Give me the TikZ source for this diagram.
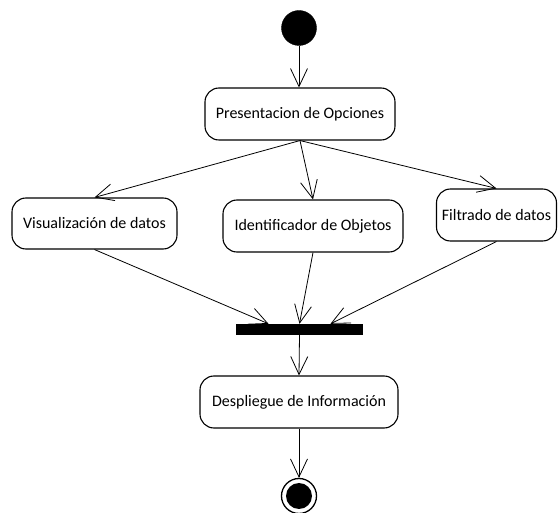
\documentclass[tikz,border=0pt]{standalone}
\usepackage{fontspec}
\setmainfont{Carlito}
\usetikzlibrary{arrows.meta,calc}
\begin{document}
\begin{tikzpicture}[x=1pt,y=-1pt,
  activity/.style={draw,line width=1.1pt,rounded corners=14pt,inner sep=0pt,
    font=\fontsize{16}{18}\selectfont},
  flow/.style={line width=0.8pt,-{Straight Barb[length=18pt,width=17pt,line width=0.8pt]}},
  startdot/.style={circle,fill=black,draw=black,inner sep=0pt,minimum size=35pt},
  joinbar/.style={rectangle,fill=black,inner sep=0pt,minimum width=127pt,minimum height=11pt}]
  \useasboundingbox (0,0) rectangle (558,513);

  % initial and final states
  \node[startdot] (start) at (299,28) {};
  \node[circle,draw=black,line width=1.3pt,inner sep=0pt,minimum size=35pt] (stop) at (299,496) {};
  \node[circle,fill=black,inner sep=0pt,minimum size=26pt] (stopdot) at (299,496) {};

  % activities
  \node[activity,minimum width=190pt,minimum height=52pt] (pres) at (300,114) {Presentacion de Opciones};
  \node[activity,minimum width=165pt,minimum height=51pt] (vis) at (94.5,223.5) {Visualización de datos};
  \node[activity,minimum width=180pt,minimum height=52pt] (ident) at (313,226) {Identificador de Objetos};
  \node[activity,minimum width=120pt,minimum height=52pt] (filt) at (496.5,215) {Filtrado de datos};
  \node[activity,minimum width=198pt,minimum height=52pt] (desp) at (299,402) {Despliegue de Información};

  % synchronisation bar
  \node[joinbar] (bar) at (299.5,329.5) {};

  % control flow
  \draw[flow] (start) -- (pres.north -| start);
  \draw[flow] (pres.south) -- (vis.north);
  \draw[flow] (pres.south) -- (ident.north);
  \draw[flow] (pres.south) -- (filt.north);
  \draw[flow] (vis.south) -- ($(bar.north)+(-31,0)$);
  \draw[flow] (ident.south) -- (bar.north);
  \draw[flow] (filt.south) -- ($(bar.north)+(31,0)$);
  \draw[flow] (bar.south) -- (desp.north);
  \draw[flow] (desp.south) -- (stop.north);
\end{tikzpicture}
\end{document}
